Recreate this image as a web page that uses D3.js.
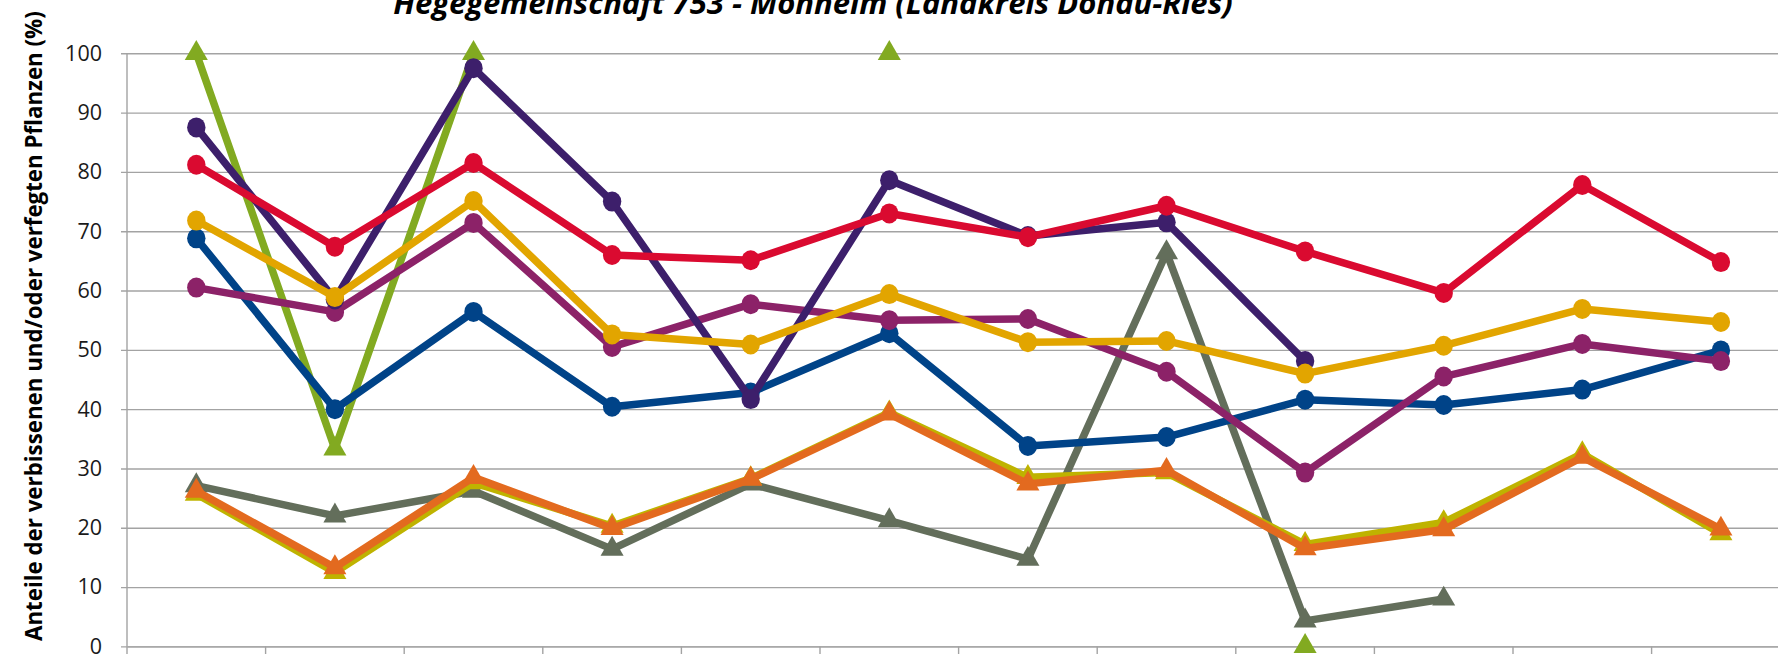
<!doctype html>
<html lang="de">
<head>
	<meta charset="UTF-8">
	<title>Verbiss Hegegemeinschaft 753 | d3</title>
	<style>
		body {
			margin: 0;
			background: #fff;
		}
		svg {
			display: block;
			font-family: "Open Sans", "DejaVu Sans", sans-serif;
		}
		.grid line {
			stroke: #a3a3a3;
			stroke-width: 1.4;
		}
		.grid .domain {
			display: none;
		}
		.grid text {
			fill: #1a1a1a;
			font-size: 21.5px;
			font-family: "Open Sans", sans-serif;
		}
		.series path.line {
			fill: none;
			stroke-width: 7.5;
			stroke-linejoin: round;
		}
	</style>
</head>
<body>
	<script src="https://cdn.jsdelivr.net/npm/d3@7/dist/d3.min.js"></script>
	<script>
		// survey years (the x axis labels lie below the picture, so they are not drawn)
		var years = ['1991', '1994', '1997', '2000', '2003', '2006', '2009', '2012', '2015', '2018', '2021', '2024'];

		var yTicks = [0, 10, 20, 30, 40, 50, 60, 70, 80, 90, 100];

		// values in %, null = no value in that year
		var sDunkelviolett = [87.5, 58.5, 97.5, 75.0, 41.7, 78.6, 69.2, 71.5, 48.1, null, null, null];
		var sRot = [81.2, 67.4, 81.5, 66.0, 65.1, 73.0, 69.0, 74.3, 66.6, 59.6, 77.8, 64.8];
		var sGelb = [71.8, 58.9, 75.1, 52.6, 50.9, 59.4, 51.3, 51.5, 46.0, 50.7, 56.9, 54.7];
		var sMagenta = [60.5, 56.4, 71.4, 50.5, 57.7, 55.0, 55.2, 46.3, 29.3, 45.5, 51.0, 48.1];
		var sBlau = [68.8, 40.0, 56.4, 40.4, 42.8, 52.8, 33.8, 35.3, 41.6, 40.7, 43.3, 49.9];
		var sGruen = [100, 33.3, 100, null, null, 100, null, null, 0, null, null, null];
		var sGrau = [27.1, 22.0, 26.2, 16.4, 27.4, 21.2, 14.7, 66.4, 4.3, 8.0, null, null];
		var sOliv = [25.7, 12.5, 27.6, 20.3, 28.3, 39.4, 28.5, 29.3, 17.2, 20.9, 32.5, 19.0];
		var sOrange = [26.2, 13.3, 28.5, 19.9, 28.2, 39.2, 27.4, 29.7, 16.5, 19.7, 31.9, 19.8];

		// drawing order = excel series order (later ones on top)
		var series = [
			{ values: sGruen, color: '#82aa21', marker: 'triangle' },
			{ values: sGrau, color: '#636e5b', marker: 'triangle' },
			{ values: sOliv, color: '#bfb300', marker: 'triangle' },
			{ values: sOrange, color: '#e36a1f', marker: 'triangle' },
			{ values: sBlau, color: '#004388', marker: 'circle' },
			{ values: sMagenta, color: '#8c2268', marker: 'circle' },
			{ values: sDunkelviolett, color: '#3d1f6b', marker: 'circle' },
			{ values: sGelb, color: '#e2a500', marker: 'circle' },
			{ values: sRot, color: '#da0a30', marker: 'circle' }
		];

		var w = 1778,
			h = 654,
			plotLeft = 127,
			band = 138.6,
			plotTop = 53.3,
			plotBottom = 646.4;

		var svg = d3.select('body')
			.append('svg')
			.attr('width', w)
			.attr('height', h);

		var xScale = d3.scaleBand()
			.domain(years)
			.range([plotLeft, plotLeft + band * years.length]);

		var yScale = d3.scaleLinear()
			.domain([0, 100])
			.range([plotBottom, plotTop]);

		/**
		* gridlines + y tick labels
		*/
		var drawAxes = function() {
			svg.append('g')
				.attr('class', 'grid')
				.attr('transform', 'translate(' + (plotLeft - 6) + ',0)')
				.call(d3.axisLeft(yScale)
					.tickValues(yTicks)
					.tickSize(-(w - plotLeft + 6))
					.tickPadding(19));

			// vertical axis line
			svg.append('line')
				.attr('x1', plotLeft).attr('x2', plotLeft)
				.attr('y1', plotTop).attr('y2', plotBottom)
				.attr('stroke', '#a3a3a3')
				.attr('stroke-width', 1.4);

			// x axis: ticks between the categories, labels are outside the picture
			var xAxis = svg.append('g')
				.attr('transform', 'translate(0,' + plotBottom + ')')
				.call(d3.axisBottom(xScale).tickSize(0).tickFormat(''));
			xAxis.select('.domain').attr('stroke', '#a3a3a3').attr('stroke-width', 1.4);

			xAxis.selectAll('line.sep')
				.data(d3.range(years.length + 1))
				.enter()
				.append('line')
				.attr('class', 'sep')
				.attr('x1', function(i) { return plotLeft + band * i; })
				.attr('x2', function(i) { return plotLeft + band * i; })
				.attr('y1', 0)
				.attr('y2', 9)
				.attr('stroke', '#a3a3a3')
				.attr('stroke-width', 1.4);
		};

		/**
		* lines and markers
		*/
		var drawSeries = function() {
			var cx = function(d, i) {
				return xScale(years[i]) + xScale.bandwidth() / 2;
			};

			var line = d3.line()
				.defined(function(d) { return d !== null; })
				.x(cx)
				.y(function(d) { return yScale(d); });

			var tri = d3.symbol().type(d3.symbolTriangle).size(230);

			series.forEach(function(s) {
				var g = svg.append('g').attr('class', 'series');

				g.append('path')
					.attr('class', 'line')
					.attr('d', line(s.values))
					.attr('stroke', s.color);

				var pts = s.values.map(function(v, i) {
					return { v: v, x: cx(v, i) };
				}).filter(function(p) { return p.v !== null; });

				if (s.marker === 'circle') {
					g.selectAll('ellipse')
						.data(pts)
						.enter()
						.append('ellipse')
						.attr('cx', function(p) { return p.x; })
						.attr('cy', function(p) { return yScale(p.v); })
						.attr('rx', 9.2)
						.attr('ry', 10)
						.attr('fill', s.color);
				} else {
					g.selectAll('path.mk')
						.data(pts)
						.enter()
						.append('path')
						.attr('class', 'mk')
						.attr('d', tri)
						.attr('transform', function(p) {
							return 'translate(' + p.x + ',' + yScale(p.v) + ')';
						})
						.attr('fill', s.color);
				}
			});
		};

		var drawTitles = function() {
			svg.append('text')
				.attr('x', 813)
				.attr('y', 14)
				.attr('text-anchor', 'middle')
				.attr('font-size', 31)
				.attr('font-weight', 'bold')
				.attr('font-style', 'italic')
				.attr('fill', '#000')
				.text('Hegegemeinschaft 753 - Monheim (Landkreis Donau-Ries)');

			svg.append('text')
				.attr('transform', 'translate(42,641) rotate(-90)')
				.attr('font-size', 22.3)
				.attr('font-weight', 'bold')
				.attr('fill', '#000')
				.text('Anteile der verbissenen und/oder verfegten Pflanzen (%)');
		};

		drawAxes();
		drawSeries();
		drawTitles();
	</script>
</body>
</html>
